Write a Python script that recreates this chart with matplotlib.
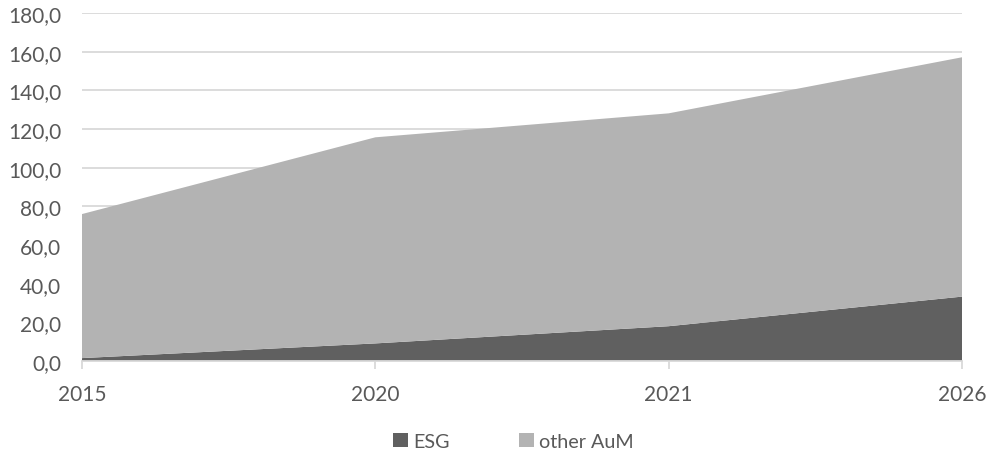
import numpy as np
import matplotlib.pyplot as plt

plt.rcParams['font.family'] = ['Lato', 'DejaVu Sans']

years = ['2015', '2020', '2021', '2026']
esg = [1.5, 9.1, 18.0, 33.3]
other_aum = [74.5, 106.6, 110.1, 123.8]
y_ticks = [0, 20, 40, 60, 80, 100, 120, 140, 160, 180]

text_col = '#595959'
grid_col = '#d9d9d9'

fig = plt.figure(figsize=(9.87, 4.56), dpi=100)
ax = fig.add_axes([82/987, 1-362/456, (962-82)/987, (362-14)/456])

x = np.arange(len(years))
ax.stackplot(x, esg, other_aum, colors=['#606060', '#b3b3b3'],
             labels=['ESG', 'other AuM'], linewidth=0, zorder=2)

ax.set_xlim(0, len(years) - 1)
ax.set_ylim(0, 180)
ax.set_yticks(y_ticks)
ax.set_yticklabels([f'{v:.1f}'.replace('.', ',') for v in y_ticks])
ax.set_xticks(x)
ax.set_xticklabels(years)

ax.grid(axis='y', color=grid_col, linewidth=1.3, zorder=0)
ax.set_axisbelow(True)
for s in ['top', 'right', 'left']:
    ax.spines[s].set_visible(False)
ax.spines['bottom'].set_color(grid_col)
ax.spines['bottom'].set_linewidth(1.3)
ax.spines['bottom'].set_zorder(3)

ax.tick_params(axis='y', length=0, pad=15, labelsize=15, labelcolor=text_col)
ax.tick_params(axis='x', length=6, width=1.3, color=grid_col, pad=10.5,
               labelsize=15, labelcolor=text_col)

leg = ax.legend(loc='upper center', bbox_to_anchor=(0.49, -0.155), ncol=2,
                frameon=False, fontsize=14.2, handlelength=0.76, handleheight=0.76,
                handletextpad=0.25, columnspacing=3.5)
for t in leg.get_texts():
    t.set_color(text_col)

fig.savefig('out.png', dpi=100)
